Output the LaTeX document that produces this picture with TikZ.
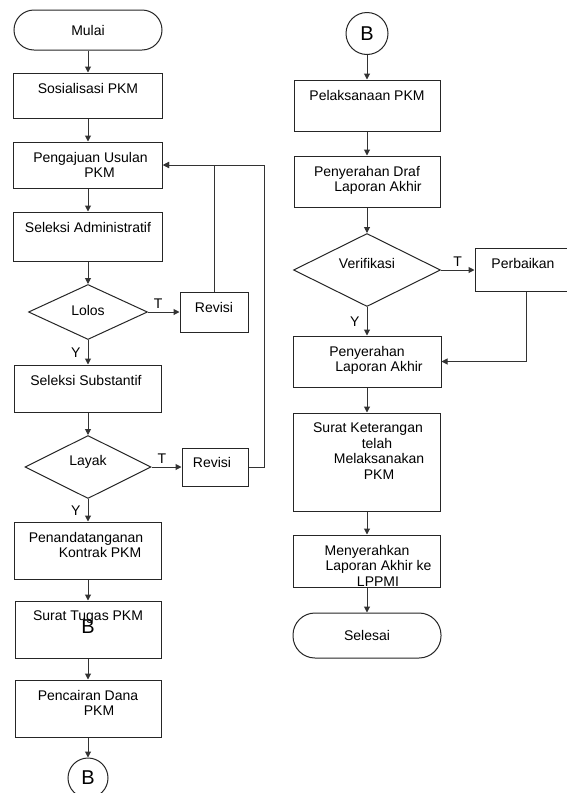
\documentclass[tikz,border=0pt]{standalone}
\usepackage{fontspec}
\setmainfont{Liberation Sans}
\usetikzlibrary{arrows.meta,shapes.geometric}

\tikzset{
    box/.style={draw=black!85, minimum width=149pt, minimum height=46pt, inner sep=0pt},
    term/.style={draw=black!85, rounded corners=20pt, minimum width=148pt, minimum height=40pt, inner sep=0pt},
    dec/.style={draw=black!85, diamond, inner sep=0pt},
    conn/.style={draw=black!85, circle, minimum size=40pt, inner sep=0pt, font=\fontsize{20}{20}\selectfont},
    lbl/.style={anchor=north, yshift=-10pt, inner sep=0pt, align=center},
    dlbl/.style={anchor=center, inner sep=0pt},
    flag/.style={inner sep=3pt},
    arr/.style={->, draw=black!80}
}

\begin{document}
\begin{tikzpicture}[x=1pt, y=-1pt, line width=1pt, >={Triangle[length=6pt,width=6pt]},
    every node/.style={font=\fontsize{14}{15.5}\selectfont}]
    \fill[white] (0,0) rectangle (566,793);
    \useasboundingbox (0,0) rectangle (566,793);

    % Nodes, left column
    \node (mulai) [term] at (88,30) {Mulai};
    \node (sos) [box, minimum height=45pt, node distance=65.5pt, below of=mulai,
        label={[lbl]north:Sosialisasi PKM}] {};
    \node (aju) [box, node distance=69.5pt, below of=sos,
        label={[lbl, xshift=2.5pt]north:Pengajuan Usulan\\\hspace*{18pt}PKM}] {};
    \node (adm) [box, minimum height=49pt, node distance=71.5pt, below of=aju,
        label={[lbl]north:Seleksi Administratif}] {};
    \node (lolos) [dec, minimum width=119pt, minimum height=55pt, node distance=75.5pt, below of=adm,
        label={[dlbl, yshift=2pt]center:Lolos}] {};
    \node (rev1) [box, minimum width=68pt, minimum height=40pt, node distance=126pt, right of=lolos,
        label={[lbl]north:Revisi}] {};
    \node (subs) [box, minimum width=147pt, minimum height=47pt, node distance=76.5pt, below of=lolos,
        label={[lbl, xshift=-2pt]north:Seleksi Substantif}] {};
    \node (layak) [dec, minimum width=126pt, minimum height=63pt, node distance=78.5pt, below of=subs,
        label={[dlbl, yshift=5pt]center:Layak}] {};
    \node (rev2) [box, minimum width=66pt, minimum height=38pt, node distance=127pt, right of=layak,
        label={[lbl, xshift=-3pt, yshift=1pt]north:Revisi}] {};
    \node (tanda) [box, minimum width=147pt, minimum height=57pt, node distance=83.5pt, below of=layak,
        label={[lbl, xshift=-2pt]north:Penandatanganan\\\hspace*{28pt}Kontrak PKM}] {};
    \node (tugas) [box, minimum width=146pt, minimum height=57pt, node distance=79pt, below of=tanda,
        label={[lbl]north:Surat Tugas PKM},
        label={[dlbl, yshift=3pt, font=\fontsize{20}{20}\selectfont]center:B}] {};
    \node (cair) [box, minimum width=146pt, minimum height=57pt, node distance=79pt, below of=tugas,
        label={[lbl]north:Pencairan Dana\\\hspace*{22pt}PKM}] {};
    \node (bBot) [conn, node distance=69.5pt, below of=cair] {B};

    % Nodes, right column
    \node (bTop) [conn, minimum size=42pt] at (367,33.5) {B};
    \node (laks) [box, minimum width=146pt, minimum height=51pt, node distance=72pt, below of=bTop,
        label={[lbl]north:Pelaksanaan PKM}] {};
    \node (draf) [box, minimum width=146pt, minimum height=51pt, node distance=76pt, below of=laks,
        label={[lbl]north:Penyerahan Draf\\\hspace*{22pt}Laporan Akhir}] {};
    \node (verif) [dec, minimum width=147pt, minimum height=73pt, node distance=88.5pt, below of=draf,
        label={[dlbl, yshift=7pt]center:Verifikasi}] {};
    \node (perb) [box, minimum width=96pt, minimum height=43pt, node distance=156pt, right of=verif,
        label={[lbl]north:Perbaikan}] {};
    \node (serah) [box, minimum width=148pt, minimum height=51pt, node distance=91.5pt, below of=verif,
        label={[lbl]north:Penyerahan\\\hspace*{24pt}Laporan Akhir}] {};
    \node (ket) [box, minimum width=147pt, minimum height=98pt, node distance=100.5pt, below of=serah,
        label={[lbl, xshift=1pt]north:Surat Keterangan\\\hspace*{18pt}telah\\\hspace*{22pt}Melaksanakan\\\hspace*{22pt}PKM}] {};
    \node (lppmi) [box, minimum width=147pt, minimum height=52pt, node distance=99pt, below of=ket,
        label={[lbl]north:Menyerahkan\\\hspace*{23pt}Laporan Akhir ke\\\hspace*{22pt}LPPMI}] {};
    \node (selesai) [term, minimum height=45pt, rounded corners=22pt, node distance=74.5pt, below of=lppmi] {Selesai};

    % Arrows, left column
    \draw[arr] (mulai) -- (sos);
    \draw[arr] (sos) -- (aju);
    \draw[arr] (aju) -- (adm);
    \draw[arr] (adm) -- (lolos);
    \draw[arr] (lolos) -- node[flag, pos=0.32, above] {T} (rev1);
    \draw[arr] (lolos) -- node[flag, left, xshift=-4pt] {Y} (subs);
    \draw[arr] (rev1.north) |- (aju.east);
    \draw[arr] (subs) -- (layak);
    \draw[arr] (layak) -- node[flag, pos=0.35, above] {T} (rev2);
    \draw[arr] (rev2.east) -- ++(16pt,0) |- (aju.east);
    \draw[arr] (layak) -- node[flag, left, xshift=-4pt] {Y} (tanda);
    \draw[arr] (tanda) -- (tugas);
    \draw[arr] (tugas) -- (cair);
    \draw[arr] (cair) -- (bBot);

    % Arrows, right column
    \draw[arr] (bTop) -- (laks);
    \draw[arr] (laks) -- (draf);
    \draw[arr] (draf) -- (verif);
    \draw[arr] (verif) -- node[flag, above] {T} (perb);
    \draw[arr] (verif) -- node[flag, left, xshift=-4pt] {Y} (serah);
    \draw[arr] ([xshift=3pt]perb.south) |- (serah.east);
    \draw[arr] (serah) -- (ket);
    \draw[arr] (ket) -- (lppmi);
    \draw[arr] (lppmi) -- (selesai);
\end{tikzpicture}
\end{document}
